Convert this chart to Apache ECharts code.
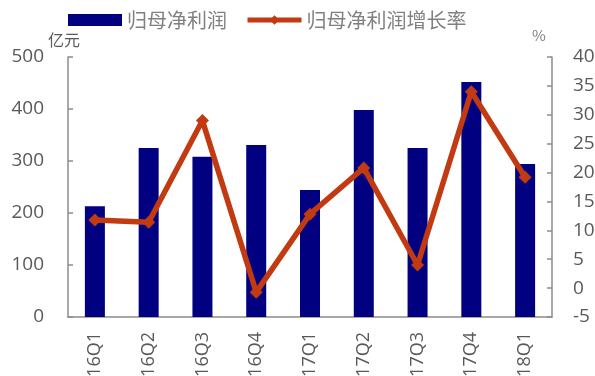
<!DOCTYPE html>
<html>
<head>
<meta charset="utf-8">
<script src="https://cdn.jsdelivr.net/npm/echarts@6/dist/echarts.min.js"></script>
<style>
  html, body { margin: 0; padding: 0; background: #fff; }
  #chart { width: 595px; height: 376px; }
</style>
</head>
<body>
<div id="chart"></div>
<script>
// 季度
const quarters = ['16Q1', '16Q2', '16Q3', '16Q4', '17Q1', '17Q2', '17Q3', '17Q4', '18Q1']
// 归母净利润（亿元）
const profit = [213, 325, 308, 331, 244, 398, 325, 452, 294]
// 归母净利润增长率（%）
const growth = [11.8, 11.4, 29.0, -0.7, 12.8, 20.8, 4.0, 34.0, 19.2]

const labelColor = '#595959'
const axisColor = '#8c8c8c'
const lineColor = '#C23A12'

const myChart = echarts.init(document.getElementById('chart'))
myChart.setOption({
  backgroundColor: '#fff',
  animation: false,
  textStyle: { fontFamily: '"Noto Sans CJK SC", sans-serif' },
  legend: {
    left: 63,
    top: 5,
    itemWidth: 54,
    itemHeight: 12,
    itemGap: 18,
    textStyle: { color: '#808080', fontSize: 20, fontFamily: '"Noto Sans CJK SC"' },
    data: [
      { name: '归母净利润', icon: 'rect' },
      { name: '归母净利润增长率', lineStyle: { width: 5 } }
    ]
  },
  grid: { left: 68, right: 43, top: 57, bottom: 59, outerBoundsMode: 'none' },
  xAxis: {
    type: 'category',
    data: quarters,
    axisLine: { lineStyle: { color: axisColor, width: 1.5 } },
    axisTick: { inside: true, length: 5, lineStyle: { color: axisColor, width: 1.5 } },
    axisLabel: { rotate: 90, color: labelColor, fontSize: 18, margin: 15, fontFamily: 'Open Sans' }
  },
  yAxis: [
    {
      type: 'value',
      name: '亿元',
      nameLocation: 'end',
      nameGap: 6,
      nameTextStyle: { color: '#595959', fontSize: 16, align: 'center', padding: [0, 0, 0, -8] },
      min: 0, max: 500, interval: 100,
      axisLine: { show: true, lineStyle: { color: axisColor, width: 1.5 } },
      axisTick: { show: true, inside: true, length: 5, lineStyle: { color: axisColor, width: 1.5 } },
      axisLabel: { color: labelColor, fontSize: 19, margin: 24, fontFamily: 'Open Sans' },
      splitLine: { show: false }
    },
    {
      type: 'value',
      name: '%',
      nameLocation: 'end',
      nameGap: 14,
      nameTextStyle: { color: '#7f7f7f', fontSize: 15, align: 'left', padding: [0, 0, 0, -20] },
      min: -5, max: 40, interval: 5,
      axisLine: { show: true, lineStyle: { color: axisColor, width: 1.5 } },
      axisTick: { show: true, inside: true, length: 5, lineStyle: { color: axisColor, width: 1.5 } },
      axisLabel: { color: labelColor, fontSize: 19, margin: 21, fontFamily: 'Open Sans' },
      splitLine: { show: false }
    }
  ],
  series: [
    {
      name: '归母净利润',
      type: 'bar',
      data: profit,
      barWidth: 20,
      itemStyle: { color: '#000080' }
    },
    {
      name: '归母净利润增长率',
      type: 'line',
      yAxisIndex: 1,
      data: growth,
      symbol: 'diamond',
      symbolSize: 13,
      lineStyle: { color: lineColor, width: 5.5 },
      itemStyle: { color: lineColor }
    }
  ]
})
</script>
</body>
</html>
